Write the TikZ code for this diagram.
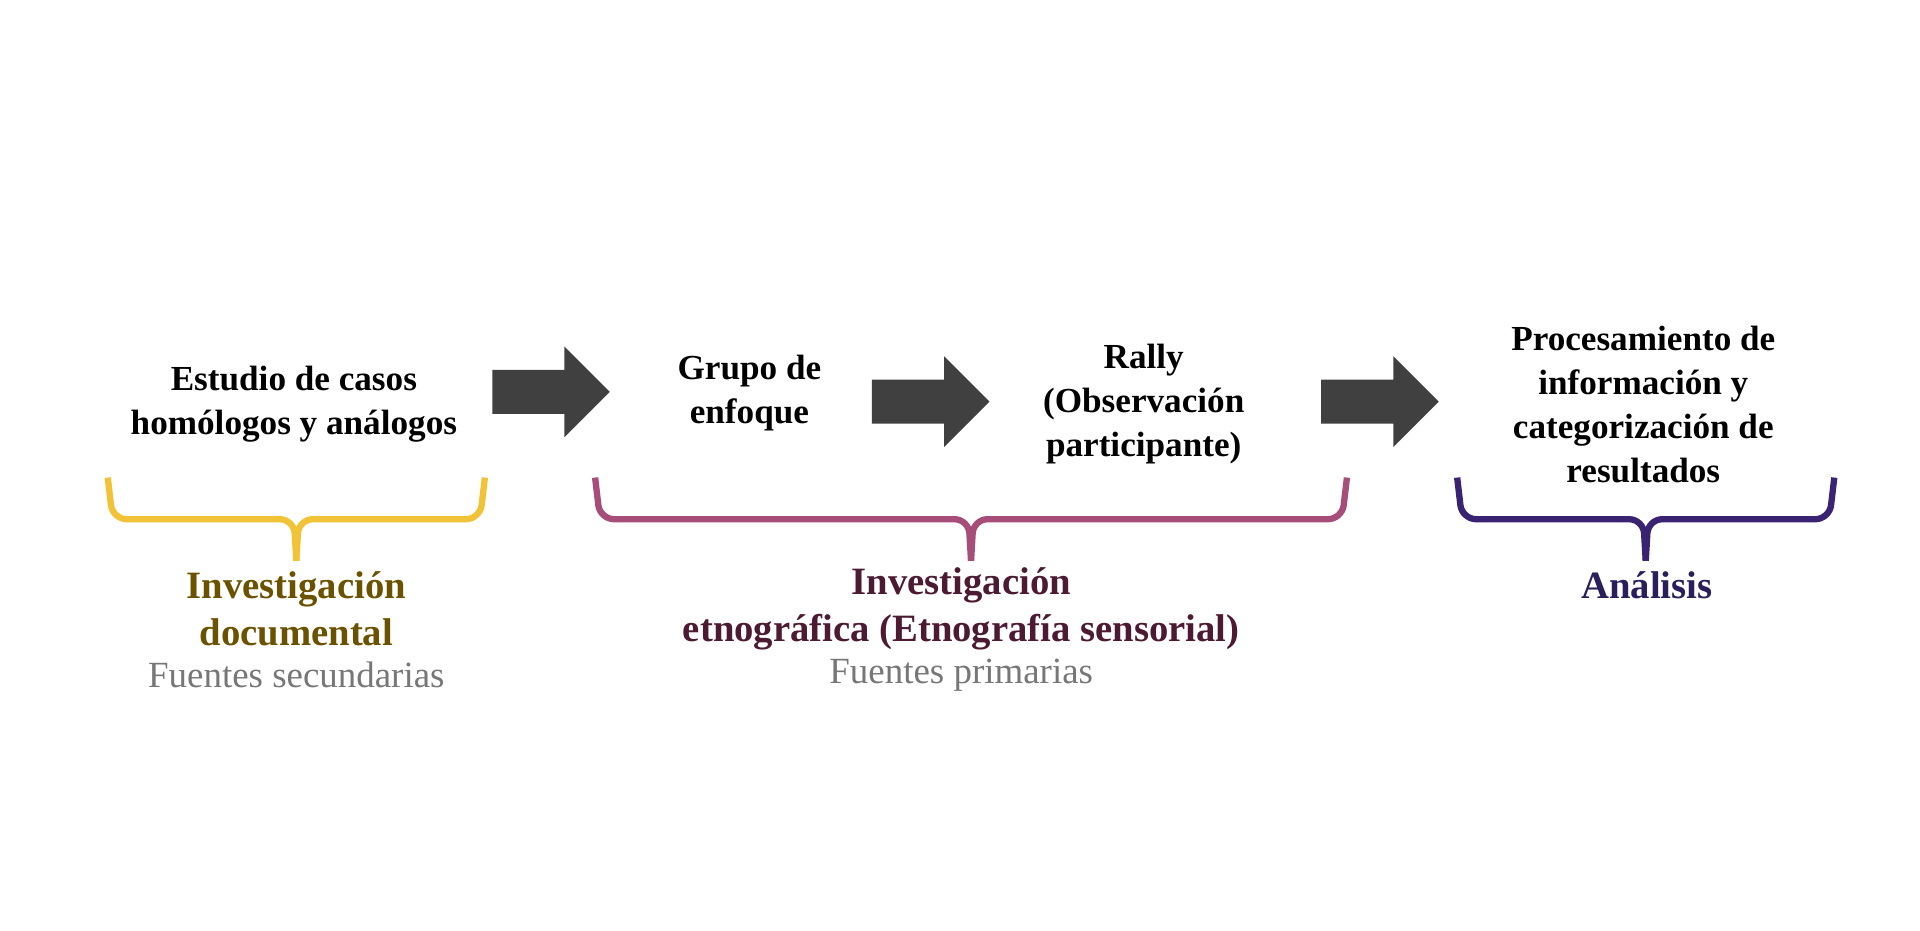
\documentclass[tikz,border=0pt]{standalone}
\usepackage{fontspec}
\setmainfont{Liberation Serif}
\definecolor{arrowgray}{HTML}{404040}
\definecolor{docbrace}{HTML}{F2C237}
\definecolor{doctext}{HTML}{6B5200}
\definecolor{etnobrace}{HTML}{A64D79}
\definecolor{etnotext}{HTML}{4D1A33}
\definecolor{anabrace}{HTML}{3B2373}
\definecolor{anatext}{HTML}{2A1F5C}
\definecolor{srcgray}{HTML}{777777}

\begin{document}
\begin{tikzpicture}[x=0.012245cm,y=-0.012245cm,
  step text/.style={font=\fontsize{10}{12.5}\selectfont\bfseries, align=center},
  group text/.style={font=\fontsize{11}{13.5}\selectfont\bfseries, align=center},
  source text/.style={font=\fontsize{10.5}{12.5}\selectfont, text=srcgray},
  brace line/.style={line width=1.8pt, rounded corners=4pt}]

  \useasboundingbox (0,0) rectangle (1568,760);

  % steps
  \node[step text] (casos) at (240,330) {Estudio de casos\\homólogos y análogos};
  \node[step text] (grupo) at (612,321) {Grupo de\\enfoque};
  \node[step text] (rally) at (934,330) {Rally\\(Observación\\participante)};
  \node[step text] (proc) at (1342,330) {Procesamiento de\\información y\\categorización de\\resultados};

  % block arrows
  \foreach \name/\xa/\ym in {arrow1/402/320, arrow2/712/328, arrow3/1079/328}{
    \fill[arrowgray] (\xa,\ym-18) -- ++(59,0) -- ++(0,-19) -- ++(37,37)
      -- ++(-37,37) -- ++(0,-19) -- ++(-59,0) -- cycle;
  }

  % braces
  \draw[brace line, docbrace] (88,390) -- (92,424) -- (240,424) -- (242,458);
  \draw[brace line, docbrace] (396,390) -- (392,424) -- (244,424) -- (242,458);
  \draw[brace line, etnobrace] (486,390) -- (490,424) -- (791,424) -- (793,458);
  \draw[brace line, etnobrace] (1100,390) -- (1096,424) -- (795,424) -- (793,458);
  \draw[brace line, anabrace] (1190,390) -- (1194,424) -- (1342,424) -- (1344,458);
  \draw[brace line, anabrace] (1498,390) -- (1494,424) -- (1346,424) -- (1344,458);

  % group labels
  \node[group text, text=doctext] (doc) at (242,497) {Investigación\\documental};
  \node[source text] (docsrc) at (242,551) {Fuentes secundarias};
  \node[group text, text=etnotext] (etno) at (785,497) {Investigación\\etnográfica (Etnografía sensorial)};
  \node[source text] (etnosrc) at (785,551) {Fuentes primarias};
  \node[group text, text=anatext] (ana) at (1345,478) {Análisis};

\end{tikzpicture}
\end{document}
